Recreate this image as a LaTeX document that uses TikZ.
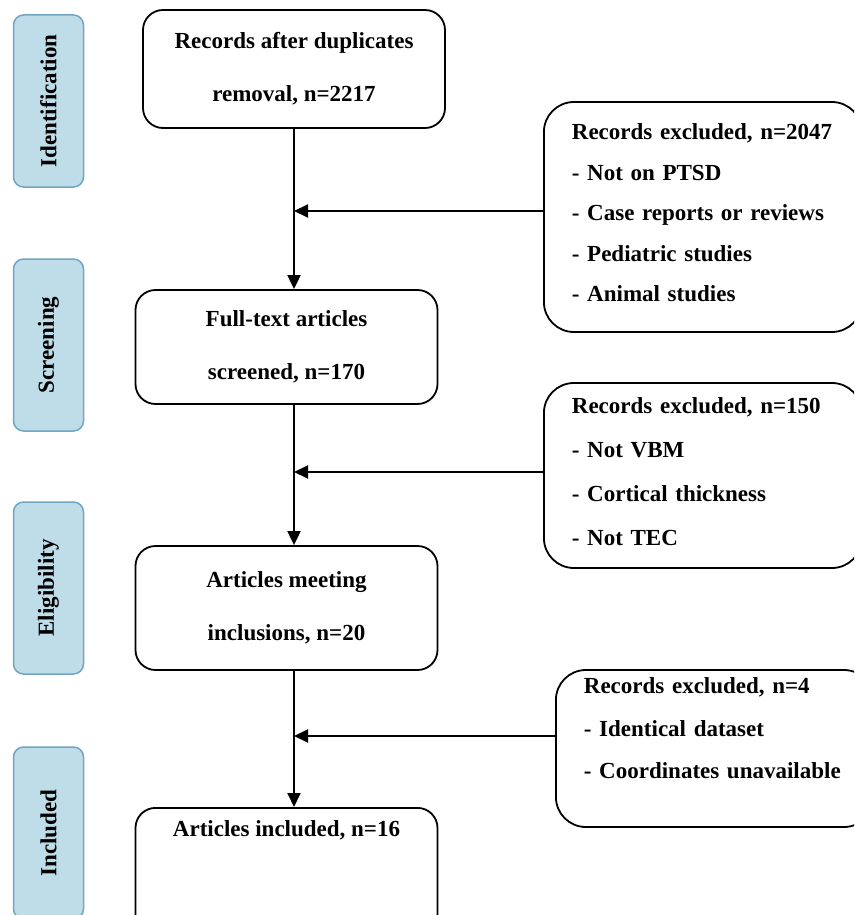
\documentclass[tikz,border=0pt]{standalone}
\usepackage{fontspec}
\setmainfont{Liberation Serif}
\usetikzlibrary{arrows.meta}
\definecolor{phasefill}{RGB}{190,221,232}
\definecolor{phaseline}{RGB}{112,166,196}
\begin{document}
\begin{tikzpicture}[x=1pt, y=-1pt,
    phase/.style={draw=phaseline, fill=phasefill, line width=1.5pt, rounded corners=10pt,
        rotate=90, minimum width=172pt, minimum height=70pt, inner sep=0pt,
        font=\bfseries\fontsize{23}{28}\selectfont},
    stagebox/.style={draw, line width=1.8pt, rounded corners=20pt, minimum width=302pt,
        align=center, inner sep=0pt, font=\bfseries\fontsize{23}{53}\selectfont},
    exclbox/.style={draw, line width=1.8pt, rounded corners=30pt, text width=262pt,
        align=left, inner xsep=28pt, inner ysep=0pt, anchor=west},
    arr/.style={line width=1.9pt, -{Triangle[length=14pt,width=13pt]}}]
    % page is 854 x 915, y grows downwards
    \useasboundingbox (0,0) rectangle (854,915);
    \clip (0,0) rectangle (854,915);

    % Phases on the left
    \node[phase] (id) at (48.5,101) {Identification};
    \node[phase] (sc) at (48.5,345) {Screening};
    \node[phase] (el) at (48.5,588) {Eligibility};
    \node[phase] (in) at (48.5,833) {Included};

    % Main column
    \node[stagebox, minimum height=118pt] (b1) at (294,69) {Records after duplicates\\removal, n=2217};
    \node[stagebox, minimum height=114pt] (b2) at (286.5,347) {Full-text articles\\screened, n=170};
    \node[stagebox, minimum height=124pt] (b3) at (286.5,608) {Articles meeting\\inclusions, n=20};
    \node[stagebox, anchor=north, inner ysep=13pt, text depth=90pt] (b4) at (286.5,807) {Articles included, n=16};

    % Excluded records
    \node[exclbox, minimum height=230pt, text depth=170pt, font=\bfseries\fontsize{23}{40.5}\selectfont] (x1) at (543,217)
        {Records excluded, n=2047\\- Not on PTSD\\- Case reports or reviews\\- Pediatric studies\\- Animal studies};
    \node[exclbox, minimum height=185pt, text depth=140pt, font=\bfseries\fontsize{23}{44}\selectfont] (x2) at (543,475.5)
        {Records excluded, n=150\\- Not VBM\\- Cortical thickness\\- Not TEC};
    \node[exclbox, minimum height=157pt, text depth=125pt, font=\bfseries\fontsize{23}{42.5}\selectfont] (x3) at (555,748.5)
        {Records excluded, n=4\\- Identical dataset\\- Coordinates unavailable};

    % Arrows
    \draw[arr] (b1.south) -- (b1.south |- b2.north);
    \draw[arr] (b1.south |- b2.south) -- (b1.south |- b3.north);
    \draw[arr] (b1.south |- b3.south) -- (b1.south |- b4.north);
    \draw[arr] ([yshift=6pt]x1.west) -- ([yshift=6pt]x1.west -| b1.south);
    \draw[arr] ([yshift=3.5pt]x2.west) -- ([yshift=3.5pt]x2.west -| b1.south);
    \draw[arr] ([yshift=12.5pt]x3.west) -- ([yshift=12.5pt]x3.west -| b1.south);
\end{tikzpicture}
\end{document}
